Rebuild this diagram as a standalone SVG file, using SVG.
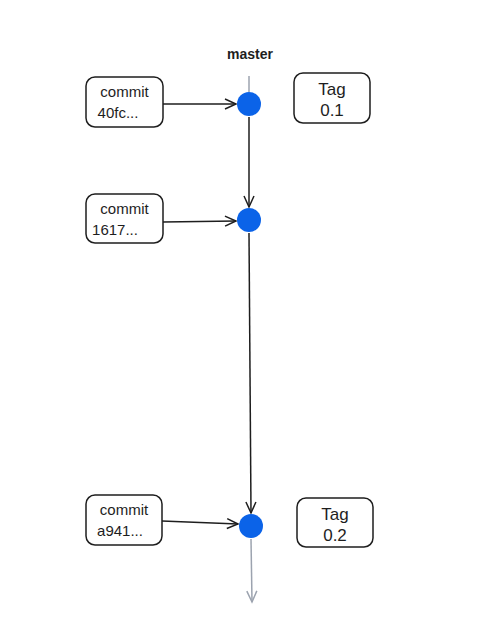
<svg xmlns="http://www.w3.org/2000/svg" width="492" height="626" viewBox="0 0 492 626">
<defs>
<style>
.box{fill:#fff;stroke:#1e1e1e;stroke-width:1.5}
.t{font-family:"Liberation Sans",Arial,sans-serif;font-size:15px;fill:#1e1e1e;text-anchor:middle}
.tg{font-size:17px}
.dot{fill:#0b63e8}
.c{stroke:#1e1e1e;stroke-width:1.5;fill:none}
.g{stroke:#9ca3af;stroke-width:1.5;fill:none}
</style>
<marker id="ah" markerWidth="14" markerHeight="14" refX="12" refY="7" orient="auto" markerUnits="userSpaceOnUse">
<path d="M1,2 L12,7 L1,12" fill="none" stroke="#1e1e1e" stroke-width="1.5"/>
</marker>
<marker id="ahg" markerWidth="14" markerHeight="14" refX="12" refY="7" orient="auto" markerUnits="userSpaceOnUse">
<path d="M1,2 L12,7 L1,12" fill="none" stroke="#9ca3af" stroke-width="1.5"/>
</marker>
</defs>
<rect width="492" height="626" fill="#fff"/>
<text x="250" y="59" class="t" style="font-weight:bold;font-size:14px">master</text>
<g id="connectors">
<line class="g" x1="249" y1="76" x2="249" y2="92"/>
<line class="g" x1="251" y1="539" x2="252" y2="602" marker-end="url(#ahg)"/>
<line class="c" x1="163" y1="104" x2="236" y2="104" marker-end="url(#ah)"/>
<line class="c" x1="163" y1="222" x2="236" y2="221" marker-end="url(#ah)"/>
<line class="c" x1="162" y1="521" x2="238" y2="524" marker-end="url(#ah)"/>
<line class="c" x1="249" y1="117" x2="249" y2="207" marker-end="url(#ah)"/>
<line class="c" x1="249" y1="233" x2="251" y2="513" marker-end="url(#ah)"/>
</g>
<g id="commit1"><rect class="box" x="86" y="77" width="77" height="50" rx="9"/><text class="t" x="124.5" y="97">commit</text><text class="t" x="118" y="118">40fc...</text></g>
<g id="commit2"><rect class="box" x="86" y="194" width="77" height="49" rx="9"/><text class="t" x="124.5" y="214">commit</text><text class="t" x="115" y="235">1617...</text></g>
<g id="commit3"><rect class="box" x="86" y="495" width="76" height="50" rx="9"/><text class="t" x="124" y="515">commit</text><text class="t" x="120" y="536">a941...</text></g>
<g id="tag1"><rect class="box" x="294" y="73" width="76" height="50" rx="9"/><text class="t tg" x="332" y="95">Tag</text><text class="t tg" x="332" y="116">0.1</text></g>
<g id="tag2"><rect class="box" x="297" y="498" width="76" height="49" rx="9"/><text class="t tg" x="335" y="520">Tag</text><text class="t tg" x="335" y="541">0.2</text></g>
<g id="dot1"><circle class="dot" cx="249" cy="104" r="12"/></g>
<g id="dot2"><circle class="dot" cx="249" cy="220" r="12"/></g>
<g id="dot3"><circle class="dot" cx="251" cy="526" r="12"/></g>
</svg>
